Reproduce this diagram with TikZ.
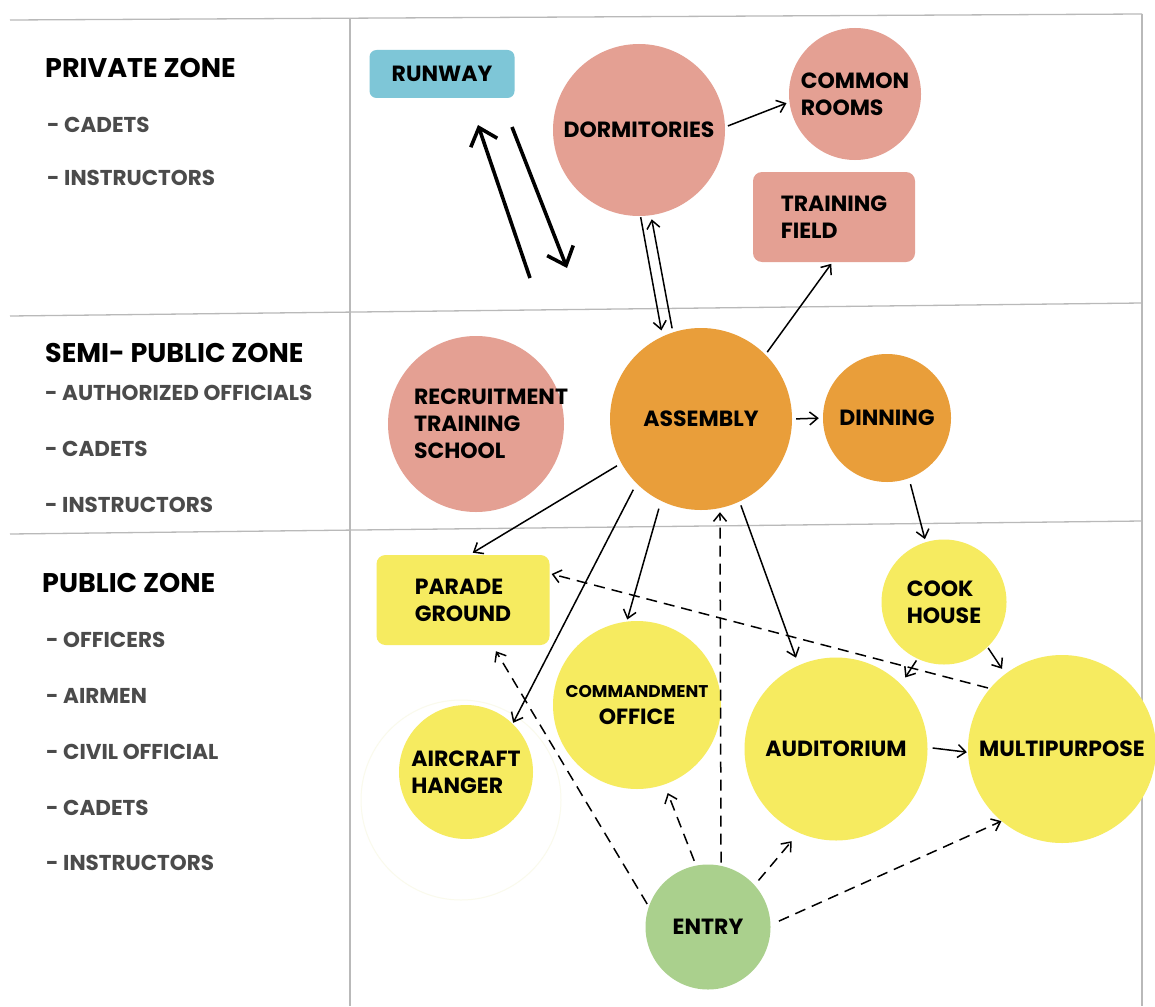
\documentclass[tikz,border=0pt]{standalone}
\usepackage{fontspec}
\setmainfont{Poppins}
\usetikzlibrary{arrows.meta}
\definecolor{salmon}{RGB}{228,160,147}
\definecolor{skyblue}{RGB}{126,198,215}
\definecolor{amber}{RGB}{233,158,58}
\definecolor{lemon}{RGB}{246,235,96}
\definecolor{leaf}{RGB}{170,208,141}
\definecolor{rulegrey}{RGB}{185,185,185}
\definecolor{subtext}{RGB}{75,75,75}
\definecolor{faintring}{RGB}{250,250,236}
\newcommand{\nodefont}{\fontsize{22}{27}\selectfont\bfseries}
\newcommand{\smallnodefont}{\fontsize{17}{21}\selectfont\bfseries}
\newcommand{\headfont}{\fontsize{27}{32}\selectfont\bfseries}
\newcommand{\itemfont}{\fontsize{21.5}{26}\selectfont\bfseries}
\begin{document}
\begin{tikzpicture}[x=1pt,y=-1pt,
  zoneline/.style={draw=rulegrey,line width=1.3pt},
  bubble/.style={circle,inner sep=0pt,minimum size=#1,font=\nodefont,align=center,text=black},
  box/.style={rectangle,rounded corners=9pt,inner sep=0pt,font=\nodefont,align=left,text=black},
  link/.style={line width=1.5pt,-{Straight Barb[length=8pt,width=13pt]}},
  dlink/.style={link,dash pattern=on 11pt off 7pt},
  bigarrow/.style={line width=3.6pt,-{Straight Barb[length=16pt,width=28pt]}},
  heading/.style={anchor=west,inner sep=0pt,font=\headfont,text=black},
  listitem/.style={anchor=west,inner sep=0pt,font=\itemfont,text=subtext}]

% page frame
\useasboundingbox (0,0) rectangle (1155,1006);
\fill[white] (0,0) rectangle (1155,1006);

% zone grid
\draw[zoneline] (10,20) -- (1142,14);
\draw[zoneline] (10,316) -- (1142,303);
\draw[zoneline] (10,534) -- (1142,521);
\draw[zoneline] (350,18) -- (350,1006);
\draw[zoneline] (1142,14) -- (1142,1006);

% zone legend
\node[heading] (hPriv) at (45,68) {PRIVATE ZONE};
\node[listitem] (p1) at (47,125) {- CADETS};
\node[listitem] (p2) at (47,178) {- INSTRUCTORS};

\node[heading] (hSemi) at (45,353) {SEMI- PUBLIC ZONE};
\node[listitem] (s1) at (45,393) {- AUTHORIZED OFFICIALS};
\node[listitem] (s2) at (45,449) {- CADETS};
\node[listitem] (s3) at (45,505) {- INSTRUCTORS};

\node[heading] (hPub) at (42,583) {PUBLIC ZONE};
\node[listitem] (u1) at (46,640) {- OFFICERS};
\node[listitem] (u2) at (46,696) {- AIRMEN};
\node[listitem] (u3) at (46,752) {- CIVIL OFFICIAL};
\node[listitem] (u4) at (46,808) {- CADETS};
\node[listitem] (u5) at (46,863) {- INSTRUCTORS};

% spaces
\node[box,fill=skyblue,minimum width=145pt,minimum height=48pt,rounded corners=7pt] (runway) at (442,74) {RUNWAY};
\node[bubble=172pt,fill=salmon] (dorm) at (639,130) {DORMITORIES};
\node[bubble=132pt,fill=salmon,align=left] (common) at (855,94) {COMMON\\ROOMS};
\node[box,fill=salmon,minimum width=162pt,minimum height=90pt] (tfield) at (834,217) {TRAINING\\FIELD};
\node[bubble=176pt,fill=salmon,
  label={[font=\nodefont,align=left,xshift=15pt]center:RECRUITMENT\\TRAINING\\SCHOOL}] (rts) at (476,424) {};
\node[bubble=182pt,fill=amber] (asm) at (701,419) {ASSEMBLY};
\node[bubble=128pt,fill=amber] (din) at (887,418) {DINNING};
\node[bubble=125pt,fill=lemon,align=left] (cook) at (944,602) {COOK\\HOUSE};
\node[box,fill=lemon,minimum width=173pt,minimum height=90pt] (parade) at (463,600) {PARADE\\GROUND};
\node[bubble=168pt,fill=lemon] (cmd) at (637,705) {{\smallnodefont COMMANDMENT}\\OFFICE};
\draw[faintring,line width=1pt] (461,800) circle (100);
\node[bubble=134pt,fill=lemon,align=left] (hang) at (466,772) {AIRCRAFT\\HANGER};
\node[bubble=183pt,fill=lemon] (aud) at (836,749) {AUDITORIUM};
\node[bubble=188pt,fill=lemon] (multi) at (1062,749) {MULTIPURPOSE};
\node[bubble=125pt,fill=leaf] (entry) at (708,927) {ENTRY};

% runway movement
\coordinate (upFoot) at (530,278);
\coordinate (upTip) at (478,125);
\coordinate (downTail) at (512,127);
\coordinate (downTip) at (567,268);
\draw[bigarrow] (upFoot) -- (upTip);
\draw[bigarrow] (downTail) -- (downTip);

% circulation
\draw[link,shorten <=3pt,shorten >=3pt] (dorm.2) -- (common.187);
\draw[link,shorten <=1pt,shorten >=6pt] (dorm.271) -- (asm.115);
\draw[link,shorten <=4pt,shorten >=4pt] (asm.108) -- (dorm.278);
\draw[link,shorten <=3pt,shorten >=2pt] (asm.45) -- (tfield.268);
\draw[link,shorten <=4pt,shorten >=4pt] (asm.0) -- (din.180);
\draw[link,shorten <=6pt,shorten >=3pt] (din.290) -- (cook.107);
\draw[link,shorten <=5pt,shorten >=4pt] (asm.209) -- (parade.82);
\draw[link,shorten <=7pt,shorten >=1pt] (asm.225) -- (hang.46);
\draw[link,shorten <=8pt,shorten >=2pt] (asm.244) -- (cmd.97);
\draw[link,shorten <=4pt,shorten >=8pt] (asm.295) -- (aud.114);
\draw[link,shorten <=2pt,shorten >=8pt] (cook.245) -- (aud.45);
\draw[link,shorten <=1pt,shorten >=6pt] (cook.314) -- (multi.127);
\draw[link,shorten <=5pt,shorten >=1pt] (aud.1) -- (multi.182);

% entry routes
\draw[dlink,shorten <=3pt,shorten >=4pt] (entry.78) -- (asm.282);
\draw[dlink,shorten <=2pt,shorten >=2pt] (multi.140) -- (parade.17);
\draw[dlink,shorten <=6pt,shorten >=11pt] (entry.42) -- (aud.246);
\draw[dlink,shorten <=9pt,shorten >=0pt] (entry.2) -- (multi.230);
\draw[dlink,shorten <=5pt,shorten >=9pt] (entry.101) -- (cmd.289);
\draw[dlink,shorten <=3pt,shorten >=7pt] (entry.161) -- (parade.303);
\end{tikzpicture}
\end{document}
